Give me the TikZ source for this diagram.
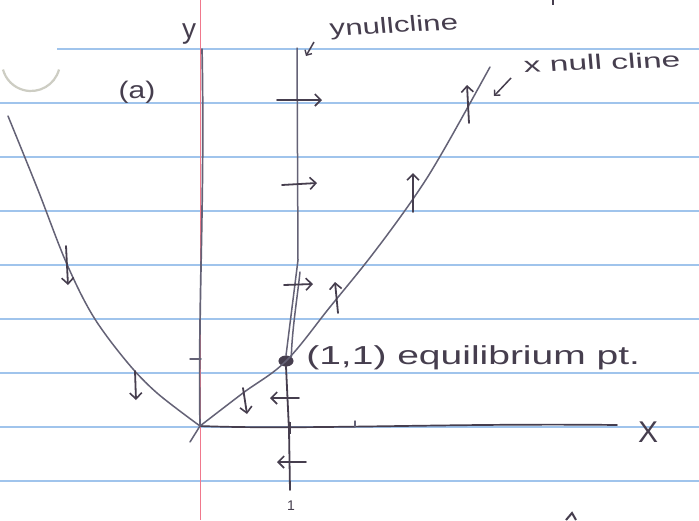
\documentclass[tikz,border=0pt]{standalone}
\usepackage{fontspec}
\setmainfont{Liberation Sans}
\usetikzlibrary{arrows.meta,shapes.geometric}
\definecolor{ruleblue}{RGB}{160,196,236}
\definecolor{marginred}{RGB}{240,120,140}
\definecolor{pencil}{RGB}{100,98,118}
\definecolor{ink}{RGB}{70,62,78}
\definecolor{holegray}{RGB}{205,205,195}
\tikzset{
  rule/.style={ruleblue, line width=1.1pt},
  pencilline/.style={pencil, line width=1.5pt, line cap=round, line join=round},
  flow/.style={ink, line width=1.8pt, line cap=round, -{Straight Barb[length=6pt,width=12pt,line width=1.6pt]}},
  hand/.style={ink, inner sep=0pt},
  eqdot/.style={ellipse, fill=ink, draw=ink, line width=1pt, minimum width=14pt, minimum height=10pt, inner sep=0pt},
}
\begin{document}
\begin{tikzpicture}[x=1pt,y=-1pt]
\useasboundingbox (0,0) rectangle (699,520);
\fill[white] (0,0) rectangle (699,520);
% ruled paper
\draw[rule] (57,49) -- (699,49);
\foreach \yy in {103,157,211,265,319,373,427,481} \draw[rule] (0,\yy) -- (699,\yy);
\draw[marginred, line width=1pt] (200,0) -- (200,520);
% punched hole
\draw[holegray, line width=2.2pt] (31,62) ++(15:29) arc[start angle=15, end angle=165, radius=29];
% coordinates
\coordinate (O) at (200,426);
\coordinate (ytop) at (202,49);
\coordinate (xend) at (617,425);
\coordinate (yntop) at (297,48);
\coordinate (ynbot) at (290,490);
% axes
\draw[pencilline, line width=1.7pt] (ytop) .. controls (205,200) and (198,300) .. (O);
\draw[pencilline, ink, line width=1.7pt] (O) .. controls (300,430) and (450,423) .. (xend);
\draw[pencilline] (190,442) -- (O);
\draw[pencilline] (190,359) -- (201,359);
\draw[pencilline] (355,421) -- (355,427);
% equilibrium point
\node[eqdot] (eq) at (286,361) {};
% y nullcline
\draw[pencilline] (yntop) -- (298,260) -- (eq.north);
\draw[pencilline] (300,272) .. controls (297,300) and (292,330) .. (eq.north east);
\draw[pencilline, ink, line width=1.8pt] (eq.south) -- (289,430) -- (ynbot);
\draw[ink, line width=3pt] (289,422) -- (289,434);
% x nullcline (parabola)
\draw[pencilline] plot[smooth, tension=0.55] coordinates {(8,116) (38,190) (66,262) (93,316) (127,362) (157,393) (O)};
\draw[pencilline] plot[smooth, tension=0.6] coordinates {(O) (243,393) (eq.center) (330,307) (372,255) (413,199) (442,153) (490,67)};
% flow arrows on y nullcline
\draw[flow] (277,100) -- (322,100);
\draw[flow] (282,185) -- (317,183);
\draw[flow] (284,285) -- (313,284);
\draw[flow] (299,398) -- (270,398);
\draw[flow] (306,462) -- (277,462);
% flow arrows on x nullcline
\draw[flow] (338,313) -- (335,282);
\draw[flow] (413,212) -- (413,173);
\draw[flow] (469,123) -- (467,85);
\draw[flow] (66,246) -- (68,285);
\draw[flow] (135,371) -- (136,400);
\draw[flow] (243,388) -- (247,414);
% labels
\node[hand, font=\fontsize{28}{30}\selectfont] (ylab) at (189,34) {y};
\node[hand, font=\fontsize{24}{26}\selectfont, xscale=1.25] (alab) at (137,92) {(a)};
\node[hand, font=\fontsize{30}{32}\selectfont] (xlab) at (648,432) {X};
\node[hand, font=\fontsize{14}{16}\selectfont] (onelab) at (291,506) {1};
\node[hand, font=\fontsize{22}{24}\selectfont, xscale=1.42, rotate=4] (ynl) at (394,27) {ynullcline};
\node[hand, font=\fontsize{21}{23}\selectfont, xscale=1.6, rotate=3] (xnl) at (602,62) {x null cline};
\node[hand, font=\fontsize{26}{28}\selectfont, xscale=1.5, anchor=west] (eqlab) at (306,358) {(1,1) equilibrium pt.};
% pointer arrows
\draw[ink, line width=1.5pt, -{Straight Barb[length=4pt,width=8pt,line width=1.4pt]}] (314,42) -- (306,56);
\draw[ink, line width=1.5pt, -{Straight Barb[length=4pt,width=8pt,line width=1.4pt]}] (511,78) -- (494,96);
% paper fragments
\draw[ink, line width=2pt] (553,0) -- (553,5);
\draw[ink, line width=2pt] (566,520) -- (572,513) -- (576,520);
\end{tikzpicture}
\end{document}
